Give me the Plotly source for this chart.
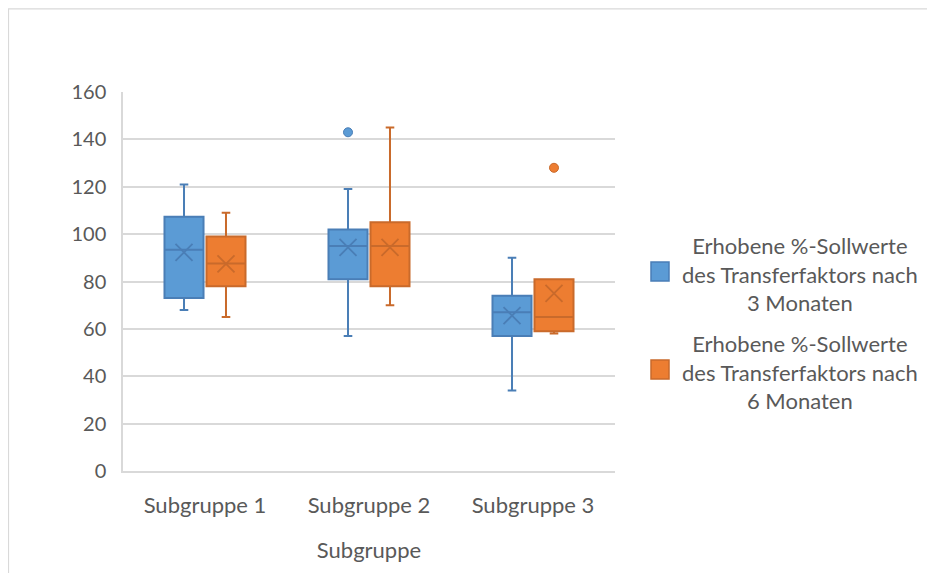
import plotly.graph_objects as go

categories = ["Subgruppe 1", "Subgruppe 2", "Subgruppe 3"]

# Series 1: 3 Monate
s1_name = "Erhobene %-Sollwerte<br>des Transferfaktors nach<br>3 Monaten"
s1_low = [68, 57, 34]
s1_q1 = [73, 81, 57]
s1_med = [93.4, 95, 67]
s1_q3 = [107.3, 102, 74]
s1_high = [121, 119, 90]
s1_mean = [92.3, 94.4, 65.6]
s1_out_cat = [1]
s1_out_val = [143]

# Series 2: 6 Monate
s2_name = "Erhobene %-Sollwerte<br>des Transferfaktors nach<br>6 Monaten"
s2_low = [65, 70, 58]
s2_q1 = [78, 78, 59]
s2_med = [87.6, 95, 65]
s2_q3 = [99, 105, 81]
s2_high = [109, 145, 81]
s2_mean = [87.4, 94.4, 75]
s2_out_cat = [2]
s2_out_val = [128]

# layout parameters (pixels); page body has an 8px offset
OFFS = 8
W, H = 935, 573
L, R, T, B = 123 - OFFS, 320 + OFFS, 92 - OFFS, 102 + OFFS
plot_w = W - L - R
plot_h = H - T - B
OFF = 0.128
BW = 0.238

series = [
    dict(name=s1_name, low=s1_low, q1=s1_q1, med=s1_med, q3=s1_q3, high=s1_high,
         mean=s1_mean, oc=s1_out_cat, ov=s1_out_val, fill="#5B9BD5", line="#4A7EB6", off=-OFF),
    dict(name=s2_name, low=s2_low, q1=s2_q1, med=s2_med, q3=s2_q3, high=s2_high,
         mean=s2_mean, oc=s2_out_cat, ov=s2_out_val, fill="#ED7D31", line="#C96A2B", off=OFF),
]

fig = go.Figure()
idx = list(range(len(categories)))
for s in series:
    xs = [i + s["off"] for i in idx]
    fig.add_trace(go.Box(
        x=xs, q1=s["q1"], median=s["med"], q3=s["q3"],
        lowerfence=s["low"], upperfence=s["high"],
        width=BW, fillcolor=s["fill"], line=dict(color=s["line"], width=2),
        whiskerwidth=0.22, boxpoints=False, showlegend=False, hoverinfo="skip",
    ))
    fig.add_trace(go.Scatter(
        x=xs, y=s["mean"], mode="markers", showlegend=False, hoverinfo="skip",
        marker=dict(symbol="x-thin", size=17, line=dict(color=s["line"], width=1.8)),
    ))
    fig.add_trace(go.Scatter(
        x=[c + s["off"] for c in s["oc"]], y=s["ov"], mode="markers",
        showlegend=False, hoverinfo="skip",
        marker=dict(symbol="circle", size=9, color=s["fill"], line=dict(color=s["line"], width=1)),
    ))

# convert reference pixel positions (screen) to paper coordinates
def px_x(px):
    return (px - OFFS - L) / plot_w

def px_y(py):
    return (H - B - (py - OFFS)) / plot_h

shapes = [
    dict(type="rect", xref="paper", yref="paper",
         x0=px_x(8.5), x1=px_x(W + 20), y0=px_y(H + 20), y1=px_y(8.8),
         line=dict(color="#D9D9D9", width=1.2), fillcolor="rgba(0,0,0,0)", layer="below"),
]
annotations = []
legend_y = [274, 372]
for s, ly in zip(series, legend_y):
    shapes.append(dict(type="rect", xref="paper", yref="paper",
                       x0=px_x(651), x1=px_x(669), y0=px_y(ly - 12 + 19), y1=px_y(ly - 12),
                       fillcolor=s["fill"], line=dict(color=s["line"], width=1.5)))
    annotations.append(dict(
        xref="paper", yref="paper", x=px_x(800), y=px_y(ly), xanchor="center", yanchor="middle",
        text=s["name"], showarrow=False, align="center",
        font=dict(family="Lato", size=22, color="#595959"),
    ))

fig.update_layout(
    width=W, height=H,
    margin=dict(l=L, r=R, t=T, b=B),
    paper_bgcolor="white", plot_bgcolor="white",
    font=dict(family="Lato", size=20, color="#595959"),
    boxmode="overlay",
    shapes=shapes, annotations=annotations,
    showlegend=False,
    xaxis=dict(
        range=[-0.5, 2.5], tickvals=idx, ticktext=categories,
        showgrid=False, zeroline=False, showline=True, linecolor="#D9D9D9", linewidth=1.5,
        ticks="", ticklabelstandoff=14, tickfont=dict(size=22),
        title=dict(text="Subgruppe", font=dict(size=22, color="#595959"), standoff=25),
    ),
    yaxis=dict(
        range=[0, 160], dtick=20, showgrid=True, gridcolor="#D9D9D9", gridwidth=1.5,
        zeroline=False, showline=True, linecolor="#D9D9D9", linewidth=1.5,
        ticks="", ticklabelstandoff=11, tickfont=dict(size=20),
    ),
)

fig.write_html("out.html")
